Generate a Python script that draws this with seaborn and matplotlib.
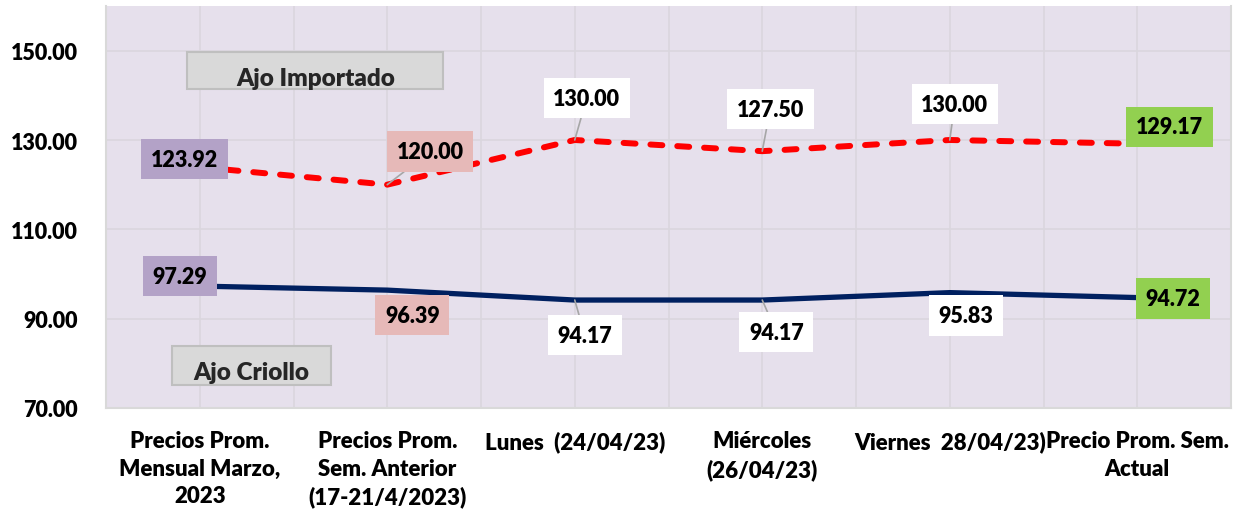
import matplotlib
matplotlib.use("Agg")
import matplotlib.pyplot as plt
import matplotlib.patches as mpatches
import numpy as np
import pandas as pd
import seaborn as sns

# --- datos ---
categorias = [
    "Precios Prom.\nMensual Marzo,\n2023",
    "Precios Prom.\nSem. Anterior\n(17-21/4/2023)",
    "Lunes  (24/04/23)",
    "Miércoles\n(26/04/23)",
    "Viernes  28/04/23)",
    "Precio Prom. Sem.\nActual",
]
ajo_importado = [123.92, 120.00, 130.00, 127.50, 130.00, 129.17]
ajo_criollo = [97.29, 96.39, 94.17, 94.17, 95.83, 94.72]
y_ticks = [70, 90, 110, 130, 150]

# colores de las etiquetas (mensual, semana anterior, dias, actual)
color_etiqueta = ["#B3A2C7", "#E6B9B8", "white", "white", "white", "#92D050"]

# desplazamientos de las etiquetas en pixeles (dx, dy)
off_imp = [(-15, 8), (43, 33), (12, 42), (8, 42), (5, 36), (32, 17)]
off_cri = [(-20, 10), (25, -25), (10, -35), (14, -32), (16, -23), (36, -1)]
con_guia_imp = [False, True, True, True, True, False]
con_guia_cri = [False, False, True, True, False, False]

PESO = "heavy"

sns.set_theme(style="white")
plt.rcParams["font.family"] = ["Lato", "DejaVu Sans"]
plt.rcParams["font.weight"] = PESO

df = pd.DataFrame({
    "x": np.arange(len(categorias)),
    "importado": ajo_importado,
    "criollo": ajo_criollo,
})

fig = plt.figure(figsize=(12.38, 5.10), dpi=100)
ax = fig.add_axes([106 / 1238, 1 - 409 / 510, 1125 / 1238, 402 / 510])
ax.set_facecolor("#E6E0EC")

sns.lineplot(data=df, x="x", y="importado", ax=ax, color="#FF0000", lw=4.3,
             linestyle=(0, (2.0, 2.5)), dash_capstyle="round", zorder=3)
sns.lineplot(data=df, x="x", y="criollo", ax=ax, color="#002060", lw=3.8,
             solid_capstyle="round", zorder=3)

ax.set_xlim(-0.5, len(categorias) - 0.5)
ax.set_ylim(70, 160)
ax.set_yticks(y_ticks)
ax.set_yticklabels([f"{v:.2f}" for v in y_ticks], fontsize=15.5, fontweight=PESO)
ax.set_xticks(np.arange(len(categorias)))
ax.set_xticklabels(categorias, fontsize=16, fontweight=PESO, linespacing=1.39)
ax.set_xticks(np.arange(len(categorias) - 1) + 0.5, minor=True)
ax.tick_params(axis="both", length=0, colors="black")
ax.tick_params(axis="x", pad=16)
ax.tick_params(axis="y", pad=20)
ax.set_xlabel("")
ax.set_ylabel("")

ax.grid(True, which="major", color="#DAD6DE", lw=1.2)
ax.grid(True, which="minor", axis="x", color="#DAD6DE", lw=1.2)
ax.set_axisbelow(True)
for lado in ["left", "bottom", "right"]:
    ax.spines[lado].set_color("#D9D9D9")
    ax.spines[lado].set_linewidth(1.5)
ax.spines["top"].set_visible(False)


def etiquetas(valores, offsets, guias):
    for i, v in enumerate(valores):
        dx, dy = offsets[i]
        props = None
        if guias[i]:
            props = dict(arrowstyle="-", color="#A6A6A6", lw=1.2,
                         shrinkA=0, shrinkB=0)
        ax.annotate(f"{v:.2f}", xy=(i, v), xytext=(dx, dy),
                    textcoords="offset pixels", ha="center", va="center",
                    fontsize=15.5, fontweight=PESO, color="black",
                    bbox=dict(boxstyle="square,pad=0.45", fc=color_etiqueta[i],
                              ec="none"),
                    arrowprops=props, zorder=5)


etiquetas(ajo_importado, off_imp, con_guia_imp)
etiquetas(ajo_criollo, off_cri, con_guia_cri)

# cuadros de nombre de serie
ax.add_patch(mpatches.Rectangle((0.072, 0.7935), 0.2276, 0.0921,
                                transform=ax.transAxes, fc="#D9D9D9",
                                ec="#BFBFBF", lw=1.5, zorder=4))
ax.text(0.186, 0.821, "Ajo Importado", transform=ax.transAxes, ha="center",
        va="center", fontsize=17.5, fontweight=PESO, zorder=5)
ax.add_patch(mpatches.Rectangle((0.0587, 0.057), 0.1413, 0.097,
                                transform=ax.transAxes, fc="#D9D9D9",
                                ec="#BFBFBF", lw=1.5, zorder=4))
ax.text(0.129, 0.0896, "Ajo Criollo", transform=ax.transAxes, ha="center",
        va="center", fontsize=17.5, fontweight=PESO, zorder=5)

fig.savefig("out.png", dpi=100)
